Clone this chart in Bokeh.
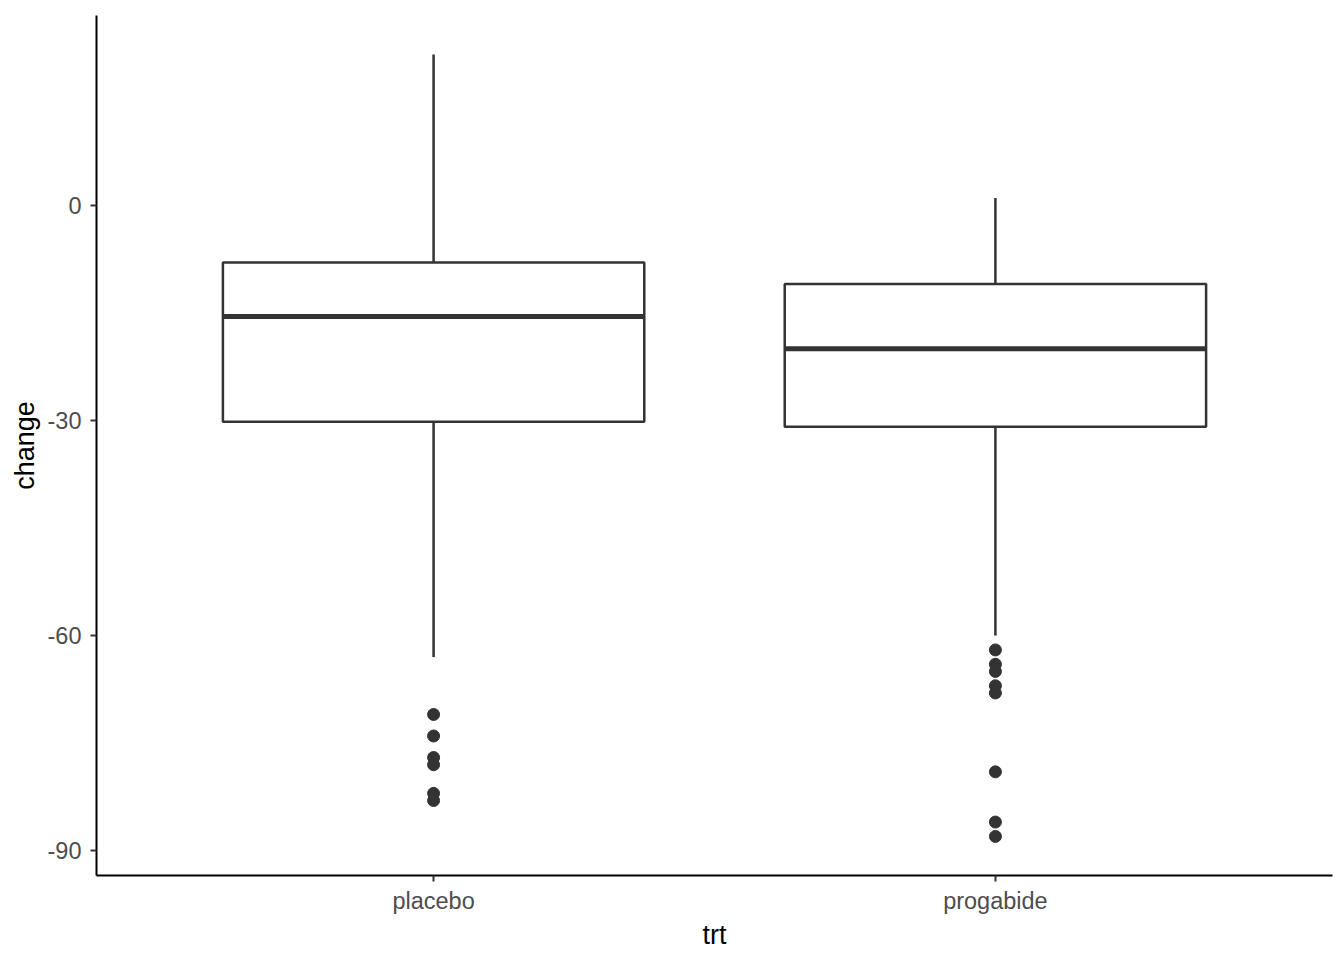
from bokeh.plotting import figure
from bokeh.models import Range1d, FixedTicker, ColumnDataSource
from bokeh.embed import file_html
from bokeh.resources import INLINE

# ---- data ----
categories = ["placebo", "progabide"]
lower_whisker = [-63, -60]
q1 = [-30.2, -30.9]
median = [-15.5, -20]
q3 = [-8, -11]
upper_whisker = [21, 1]
outliers_placebo = [-71, -74, -77, -78, -82, -83]
outliers_progabide = [-62, -64, -65, -67, -68, -79, -86, -88]
y_ticks = [-90, -60, -30, 0]
y_tick_labels = ["-90", "-60", "-30", "0"]

xpos = [i + 1 for i in range(len(categories))]
box_w = 0.75
DARK = "#333333"

p = figure(width=1338, height=952, output_backend="svg", toolbar_location=None,
           x_range=Range1d(0.4, 2.6), y_range=Range1d(-93.45, 26.45),
           min_border_left=96, min_border_right=6, min_border_top=15, min_border_bottom=76)
p.outline_line_color = None
p.xgrid.visible = False
p.ygrid.visible = False
p.background_fill_color = "white"

src = ColumnDataSource(dict(x=xpos, lo=lower_whisker, q1=q1, med=median, q3=q3, hi=upper_whisker,
                            left=[x - box_w / 2 for x in xpos], right=[x + box_w / 2 for x in xpos]))

# whiskers
p.segment(x0="x", y0="q3", x1="x", y1="hi", source=src, line_color=DARK, line_width=2.5)
p.segment(x0="x", y0="lo", x1="x", y1="q1", source=src, line_color=DARK, line_width=2.5)
# boxes
p.quad(left="left", right="right", bottom="q1", top="q3", source=src,
       fill_color="white", line_color=DARK, line_width=2.5)
# medians
p.segment(x0="left", y0="med", x1="right", y1="med", source=src, line_color=DARK, line_width=5)

# outliers
ox = [xpos[0]] * len(outliers_placebo) + [xpos[1]] * len(outliers_progabide)
oy = outliers_placebo + outliers_progabide
p.scatter(ox, oy, size=12, fill_color=DARK, line_color=DARK)

# axes
p.xaxis.ticker = FixedTicker(ticks=xpos)
p.xaxis.major_label_overrides = {x: c for x, c in zip(xpos, categories)}
p.yaxis.ticker = FixedTicker(ticks=y_ticks)
p.yaxis.major_label_overrides = {t: s for t, s in zip(y_ticks, y_tick_labels)}
p.xaxis.minor_tick_line_color = None
p.yaxis.minor_tick_line_color = None
for ax in (p.xaxis, p.yaxis):
    ax.axis_line_color = "black"
    ax.axis_line_width = 2
    ax.major_tick_line_color = DARK
    ax.major_tick_line_width = 2
    ax.major_tick_out = 6
    ax.major_tick_in = 0
    ax.major_label_text_font = "Liberation Sans"
    ax.major_label_text_font_size = "23.5px"
    ax.major_label_text_color = "#4D4D4D"
    ax.axis_label_text_font = "Liberation Sans"
    ax.axis_label_text_font_size = "27px"
    ax.axis_label_text_font_style = "normal"
    ax.axis_label_text_color = "black"
p.xaxis.axis_label = "trt"
p.yaxis.axis_label = "change"
p.xaxis.major_label_standoff = 6
p.yaxis.major_label_standoff = 9
p.xaxis.axis_label_standoff = 3
p.yaxis.axis_label_standoff = 5

open("out.html", "w").write(file_html(p, INLINE))
